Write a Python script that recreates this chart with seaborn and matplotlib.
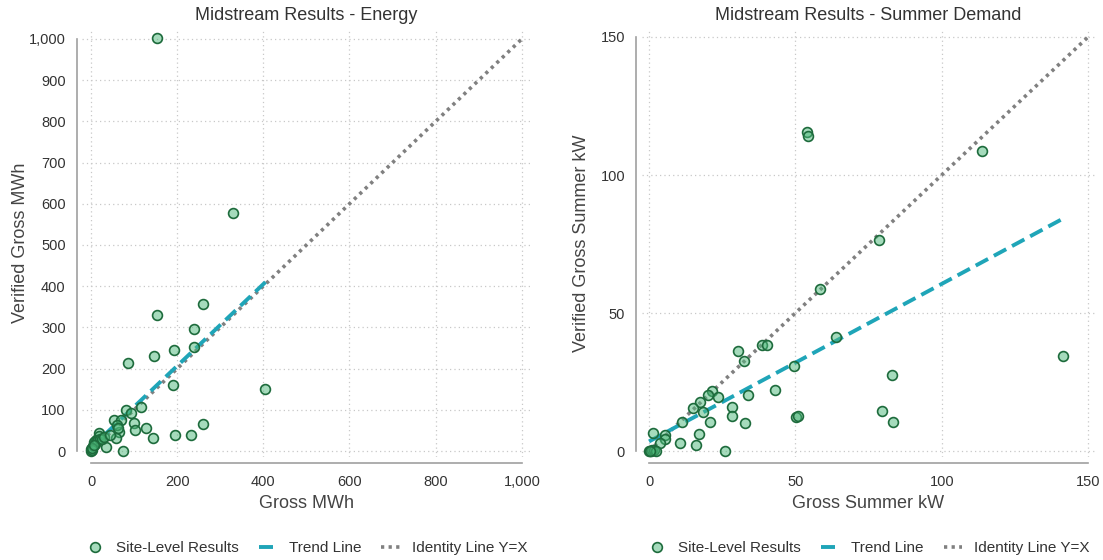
import matplotlib
matplotlib.use("Agg")
import matplotlib.pyplot as plt
from matplotlib.lines import Line2D
import seaborn as sns
import pandas as pd

# Site-level energy results (MWh)
energy_gross = [154, 330, 154, 259, 240, 239, 192, 147, 87, 191, 404, 81, 93, 116,
                53, 100, 101, 127, 145, 195, 232, 259, 74, 66, 57, 69, 60, 62, 35,
                19, 18, 11, 8, 0, 1, 5, 10, 14, 20, 3, 2, 6, 25, 30, 45]
energy_verified = [1003, 578, 329, 356, 296, 252, 244, 230, 213, 160, 151, 99, 93, 108,
                   75, 69, 51, 55, 31, 39, 39, 66, 0, 47, 31, 75, 63, 55, 9,
                   44, 37, 27, 21, 4, 0, 12, 18, 24, 30, 2, 8, 15, 28, 35, 40]

# Site-level summer demand results (kW)
demand_gross = [54.1, 54.3, 113.9, 78.6, 58.5, 63.8, 38.5, 40.4, 30.5, 32.3, 49.5,
                141.6, 82.9, 42.9, 33.9, 21.5, 20.2, 23.6, 17.4, 15.1, 18.3, 28.4,
                28.2, 50.1, 50.8, 79.7, 83.5, 32.7, 20.9, 11.2, 17.1, 16.0, 10.6,
                26.0, 1.2, 5.5, 5.4, 3.8, 0.0, 0.5, 1.0, 1.8, 2.4, 0.3]
demand_verified = [115.4, 114.2, 108.6, 76.4, 58.7, 41.5, 38.4, 38.4, 36.4, 32.6, 30.7,
                   34.5, 27.5, 22.0, 20.4, 21.9, 20.3, 19.6, 17.8, 15.5, 14.3, 15.8,
                   12.7, 12.4, 12.8, 14.4, 10.7, 10.1, 10.4, 10.6, 6.2, 2.1, 2.9,
                   0.0, 6.5, 5.8, 4.3, 2.9, 0.0, 0.0, 0.3, 0.5, 0.0, 0.2]

# Trend line end points
energy_trend_x = [0, 405]
energy_trend_y = [8, 410]
demand_trend_x = [0, 141.6]
demand_trend_y = [3.5, 84.3]

# Identity lines
energy_identity = [0, 1000]
demand_identity = [0, 150]

energy_ticks = [0, 200, 400, 600, 800, 1000]
energy_yticks = [0, 100, 200, 300, 400, 500, 600, 700, 800, 900, 1000]
demand_ticks = [0, 50, 100, 150]

titles = ["Midstream Results - Energy", "Midstream Results - Summer Demand"]
xlabels = ["Gross MWh", "Gross Summer kW"]
ylabels = ["Verified Gross MWh", "Verified Gross Summer kW"]
legend_labels = ["Site-Level Results", "Trend Line", "Identity Line Y=X"]

sns.set_style("white")
plt.rcParams["font.family"] = ["Liberation Sans", "DejaVu Sans"]

POINT_FACE = (0.30, 0.72, 0.48, 0.50)
POINT_EDGE = "#1d6b3c"
TREND_COLOR = "#1fa5b8"
IDENTITY_COLOR = "#808080"
GRID_COLOR = "#c8c8c8"
SPINE_COLOR = "#a0a0a0"
TEXT_COLOR = "#333333"

fig = plt.figure(figsize=(11.03, 5.60), dpi=100)
ax1 = fig.add_axes([0.0747, 0.1836, 0.4062, 0.7652])
ax2 = fig.add_axes([0.5818, 0.1836, 0.4113, 0.7652])

panels = [
    (ax1, energy_gross, energy_verified, energy_trend_x, energy_trend_y,
     energy_identity, energy_ticks, energy_yticks, (-20, 1020), (-15, 1025), -0.119),
    (ax2, demand_gross, demand_verified, demand_trend_x, demand_trend_y,
     demand_identity, demand_ticks, demand_ticks, (-2.5, 152.5), (-2.2, 153.0), -0.114),
]

for i, (ax, gx, vy, tx, ty, ident, xt, yt, xl, yl, ylab_x) in enumerate(panels):
    pts = pd.DataFrame({"gross": gx, "verified": vy})
    sns.lineplot(x=ident, y=ident, ax=ax, color=IDENTITY_COLOR, lw=2.6,
                 linestyle=(0, (0.9, 1.2)), zorder=2)
    sns.lineplot(x=tx, y=ty, ax=ax, color=TREND_COLOR, lw=2.8,
                 linestyle=(0, (3.6, 1.7)), zorder=3)
    sns.scatterplot(data=pts, x="gross", y="verified", ax=ax, s=50,
                    facecolor=POINT_FACE, edgecolor=POINT_EDGE, linewidth=1.2,
                    zorder=4)

    ax.set_xlim(*xl)
    ax.set_ylim(*yl)
    ax.set_xticks(xt)
    ax.set_yticks(yt)
    fmt = lambda v: f"{int(v):,}"
    ax.set_xticklabels([fmt(v) for v in xt])
    ax.set_yticklabels([fmt(v) for v in yt])
    ax.grid(True, linestyle=(0, (1, 2.5)), color=GRID_COLOR, lw=0.9)
    ax.set_axisbelow(True)

    for side in ["top", "right"]:
        ax.spines[side].set_visible(False)
    for side in ["left", "bottom"]:
        ax.spines[side].set_position(("outward", 4))
        ax.spines[side].set_color(SPINE_COLOR)
        ax.spines[side].set_linewidth(1.2)
    ax.spines["left"].set_bounds(yt[0], yt[-1])
    ax.spines["bottom"].set_bounds(xt[0], xt[-1])
    ax.tick_params(axis="both", direction="out", length=4, width=1.0,
                   color=SPINE_COLOR, labelsize=10.5, labelcolor=TEXT_COLOR, pad=4)
    ax.tick_params(axis="x", pad=5)

    ax.set_title(titles[i], fontsize=13, color=TEXT_COLOR, pad=6)
    ax.set_xlabel(xlabels[i], fontsize=13, color="#444444", labelpad=4)
    ax.set_ylabel(ylabels[i], fontsize=13, color="#444444")
    ax.yaxis.set_label_coords(ylab_x, 0.5)

    handles = [
        Line2D([], [], marker="o", linestyle="none", markersize=7,
               markerfacecolor=POINT_FACE, markeredgecolor=POINT_EDGE,
               markeredgewidth=1.2),
        Line2D([], [], color=TREND_COLOR, lw=2.8, linestyle=(0, (3.6, 1.7))),
        Line2D([], [], color=IDENTITY_COLOR, lw=2.6, linestyle=(0, (0.9, 1.2))),
    ]
    ax.legend(handles, legend_labels, loc="center",
              bbox_to_anchor=(0.5, -0.212), ncol=3, frameon=False,
              fontsize=11, handlelength=1.2, handletextpad=0.8,
              columnspacing=1.3, labelcolor=TEXT_COLOR)

fig.savefig("out.png", dpi=100)
